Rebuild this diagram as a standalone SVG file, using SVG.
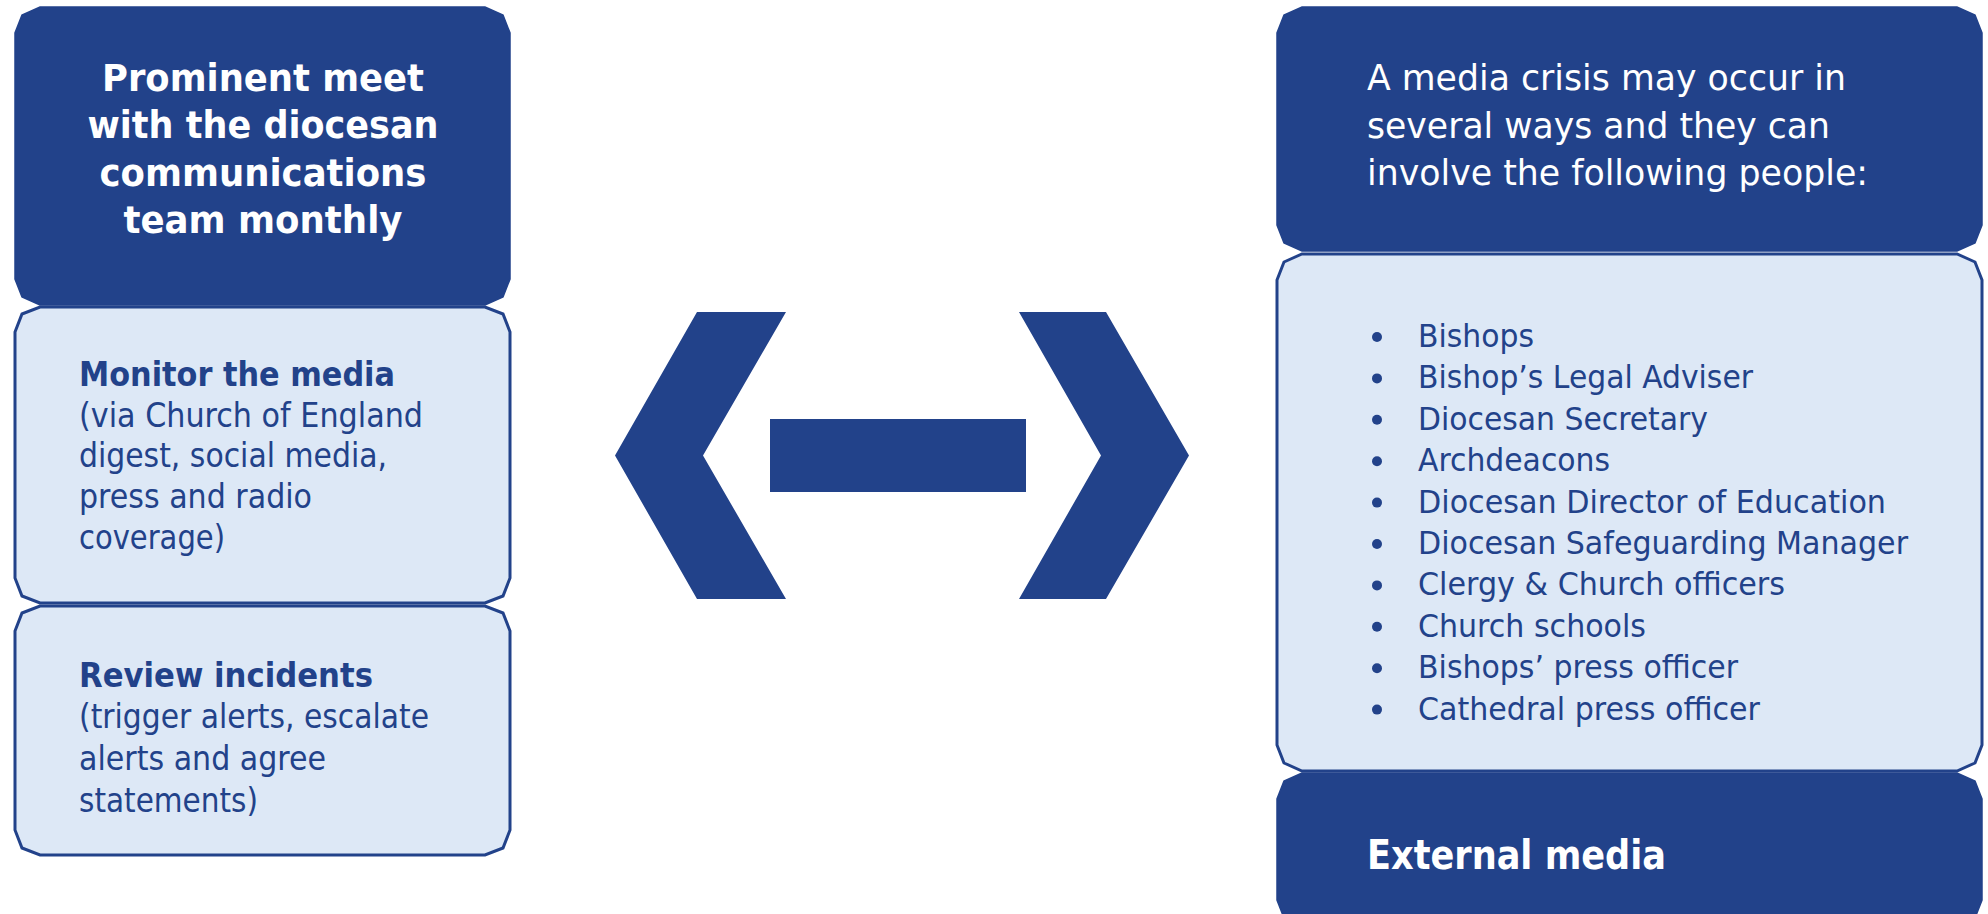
<svg xmlns="http://www.w3.org/2000/svg" width="1988" height="914" viewBox="0 0 1988 914">
  <style>
    .dark { fill: #22428A; stroke: #22428A; stroke-width: 1.5; }
    .light { fill: #DDE8F6; stroke: #22428A; stroke-width: 3; }
    .conn { fill: #22428A; }
    .wb { font-family: 'DejaVu Sans', 'Liberation Sans', sans-serif; font-weight: bold; fill: #FFFFFF; }
    .wr { font-family: 'DejaVu Sans', 'Liberation Sans', sans-serif; fill: #FFFFFF; }
    .bb { font-family: 'DejaVu Sans', 'Liberation Sans', sans-serif; font-weight: bold; fill: #22428A; }
    .br { font-family: 'DejaVu Sans Condensed', 'DejaVu Sans', 'Liberation Sans', sans-serif; fill: #22428A; }
    .lr { font-family: 'DejaVu Sans', 'Liberation Sans', sans-serif; fill: #22428A; }
    .dot { fill: #22428A; }
  </style>

  <g id="node-prominent">
    <path class="dark" d="M40,7 L485,7 L503,15 L510,33 L510,279 L503,297 L485,305 L40,305 L22,297 L15,279 L15,33 L22,15 Z"/>
    <g class="wb" font-size="37" text-anchor="middle">
      <text x="263" y="91" textLength="322" lengthAdjust="spacingAndGlyphs">Prominent meet</text>
      <text x="263" y="138" textLength="351" lengthAdjust="spacingAndGlyphs">with the diocesan</text>
      <text x="263" y="186" textLength="327" lengthAdjust="spacingAndGlyphs">communications</text>
      <text x="263" y="233" textLength="279" lengthAdjust="spacingAndGlyphs">team monthly</text>
    </g>
  </g>

  <g id="node-monitor">
    <path class="light" d="M40,307 L485,307 L503,314 L510,332 L510,578 L503,596 L485,603 L40,603 L22,596 L15,578 L15,332 L22,314 Z"/>
    <text class="bb" x="79" y="386" font-size="34" textLength="316" lengthAdjust="spacingAndGlyphs">Monitor the media</text>
    <g class="br" font-size="34">
      <text x="79" y="427" textLength="344" lengthAdjust="spacingAndGlyphs">(via Church of England</text>
      <text x="79" y="467" textLength="308" lengthAdjust="spacingAndGlyphs">digest, social media,</text>
      <text x="79" y="508" textLength="233" lengthAdjust="spacingAndGlyphs">press and radio</text>
      <text x="79" y="549" textLength="146" lengthAdjust="spacingAndGlyphs">coverage)</text>
    </g>
  </g>

  <g id="node-review">
    <path class="light" d="M40,606 L485,606 L503,613 L510,631 L510,830 L503,848 L485,855 L40,855 L22,848 L15,830 L15,631 L22,613 Z"/>
    <text class="bb" x="79" y="687" font-size="34" textLength="294" lengthAdjust="spacingAndGlyphs">Review incidents</text>
    <g class="br" font-size="34">
      <text x="79" y="728" textLength="350" lengthAdjust="spacingAndGlyphs">(trigger alerts, escalate</text>
      <text x="79" y="770" textLength="247" lengthAdjust="spacingAndGlyphs">alerts and agree</text>
      <text x="79" y="812" textLength="179" lengthAdjust="spacingAndGlyphs">statements)</text>
    </g>
  </g>

  <g id="connectors">
    <polygon class="conn" points="697,312 786,312 703,455.5 786,599 697,599 615,455.5"/>
    <rect class="conn" x="770" y="419" width="256" height="73"/>
    <polygon class="conn" points="1019,312 1106,312 1189,455.5 1106,599 1019,599 1101,455.5"/>
  </g>

  <g id="node-crisis">
    <path class="dark" d="M1302,7 L1957,7 L1975,15 L1982,33 L1982,225 L1975,243 L1957,251 L1302,251 L1284,243 L1277,225 L1277,33 L1284,15 Z"/>
    <g class="wr" font-size="35">
      <text x="1367" y="90" textLength="479" lengthAdjust="spacingAndGlyphs">A media crisis may occur in</text>
      <text x="1367" y="137.5" textLength="463" lengthAdjust="spacingAndGlyphs">several ways and they can</text>
      <text x="1367" y="185" textLength="501" lengthAdjust="spacingAndGlyphs">involve the following people:</text>
    </g>
  </g>

  <g id="node-people">
    <path class="light" d="M1302,254 L1957,254 L1975,262 L1982,280 L1982,745 L1975,763 L1957,771 L1302,771 L1284,763 L1277,745 L1277,280 L1284,262 Z"/>
    <g class="dot">
      <circle cx="1377" cy="337" r="5"/>
      <circle cx="1377" cy="378.4" r="5"/>
      <circle cx="1377" cy="419.8" r="5"/>
      <circle cx="1377" cy="461.2" r="5"/>
      <circle cx="1377" cy="502.6" r="5"/>
      <circle cx="1377" cy="544" r="5"/>
      <circle cx="1377" cy="585.4" r="5"/>
      <circle cx="1377" cy="626.8" r="5"/>
      <circle cx="1377" cy="668.2" r="5"/>
      <circle cx="1377" cy="709.6" r="5"/>
    </g>
    <g class="lr" font-size="32">
      <text x="1418" y="347" textLength="116" lengthAdjust="spacingAndGlyphs">Bishops</text>
      <text x="1418" y="388.4" textLength="335" lengthAdjust="spacingAndGlyphs">Bishop’s Legal Adviser</text>
      <text x="1418" y="429.8" textLength="290" lengthAdjust="spacingAndGlyphs">Diocesan Secretary</text>
      <text x="1418" y="471.2" textLength="192" lengthAdjust="spacingAndGlyphs">Archdeacons</text>
      <text x="1418" y="512.6" textLength="468" lengthAdjust="spacingAndGlyphs">Diocesan Director of Education</text>
      <text x="1418" y="554" textLength="490" lengthAdjust="spacingAndGlyphs">Diocesan Safeguarding Manager</text>
      <text x="1418" y="595.4" textLength="367" lengthAdjust="spacingAndGlyphs">Clergy &amp; Church officers</text>
      <text x="1418" y="636.8" textLength="228" lengthAdjust="spacingAndGlyphs">Church schools</text>
      <text x="1418" y="678.2" textLength="320" lengthAdjust="spacingAndGlyphs">Bishops’ press officer</text>
      <text x="1418" y="719.6" textLength="342" lengthAdjust="spacingAndGlyphs">Cathedral press officer</text>
    </g>
  </g>

  <g id="node-external">
    <path class="dark" d="M1302,773 L1957,773 L1975,781 L1982,799 L1982,900 L1975,918 L1957,926 L1302,926 L1284,918 L1277,900 L1277,799 L1284,781 Z"/>
    <text class="wb" x="1367" y="869" font-size="40" textLength="299" lengthAdjust="spacingAndGlyphs">External media</text>
  </g>
</svg>
